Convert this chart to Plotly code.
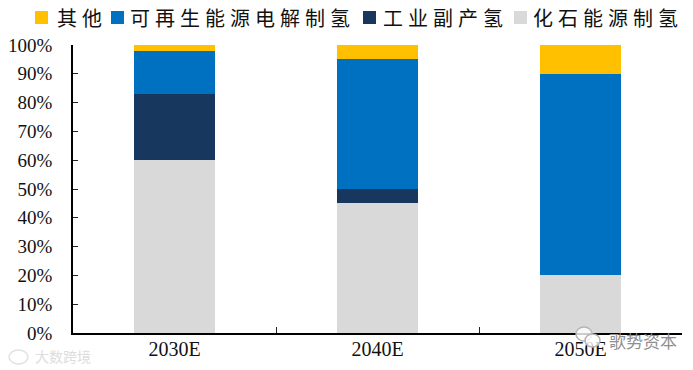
import plotly.graph_objects as go

categories = ["2030E", "2040E", "2050E"]
series_names = ["化石能源制氢", "工业副产氢", "可再生能源电解制氢", "其他"]
fossil = [60, 45, 20]
byproduct = [23, 5, 0]
renewable = [15, 45, 70]
other = [2, 5, 10]
colors = ["#D9D9D9", "#17375E", "#0070C0", "#FFC000"]
tick_vals = [0, 10, 20, 30, 40, 50, 60, 70, 80, 90, 100]
tick_text = [f"{v}%" for v in tick_vals]

W, H = 693, 370
px = lambda x: x / W
py = lambda y: 1 - y / H

fig = go.Figure()
for name, vals, col in zip(series_names, [fossil, byproduct, renewable, other], colors):
    fig.add_trace(go.Bar(x=categories, y=vals, name=name, showlegend=False,
                         marker=dict(color=col, line=dict(width=0)), width=0.4))

fig.update_layout(
    barmode="stack",
    width=W, height=H,
    margin=dict(l=0, r=0, t=0, b=0, autoexpand=False),
    paper_bgcolor="white", plot_bgcolor="white",
    font=dict(family="Liberation Serif", color="#000000"),
    showlegend=False,
    xaxis=dict(type="category", domain=[px(73), px(682)], showgrid=False, ticks="inside", ticklen=6,
               tickwidth=1, tickcolor="#222222", tickson="boundaries", showline=True,
               linecolor="#000000", linewidth=1.5, ticklabelstandoff=-3,
               tickfont=dict(family="Liberation Serif", size=20, color="#111111"), range=[-0.5, 2.5]),
    yaxis=dict(domain=[py(333), py(45)], range=[0, 100], tickvals=tick_vals, ticktext=tick_text,
               showgrid=False, zeroline=False, ticks="inside", ticklen=5, tickwidth=1, tickcolor="#222222",
               showline=True, linecolor="#000000", linewidth=1.5, ticklabelstandoff=15,
               tickfont=dict(family="Liberation Serif", size=19, color="#111111")),
)

# Hand-placed legend row (the reference is wider than a Plotly legend allows)
legend_slots = [(3, 35, 57), (2, 111, 130), (1, 363, 383), (0, 514, 533)]
for idx, sw_x, tx_x in legend_slots:
    fig.add_shape(type="rect", xref="paper", yref="paper", x0=px(sw_x), x1=px(sw_x + 13),
                  y0=py(11), y1=py(24), fillcolor=colors[idx], line=dict(width=0))
    fig.add_annotation(text="\u2005".join(series_names[idx]), xref="paper", yref="paper",
                       x=px(tx_x - 2), y=py(18), xanchor="left", yanchor="middle", showarrow=False,
                       font=dict(family="Noto Sans CJK SC", size=20, color="#111111"))

fig.add_annotation(text="歌势资本", xref="paper", yref="paper", x=px(643), y=py(340), xanchor="center", yanchor="middle",
                   showarrow=False, font=dict(family="Noto Sans CJK SC", size=17, color="#8f8f8f"))
fig.add_annotation(text="大数跨境", xref="paper", yref="paper", x=px(63), y=py(356), xanchor="center", yanchor="middle",
                   showarrow=False, font=dict(family="Noto Sans CJK SC", size=14, color="#dddddd"))
# WeChat-style and badge watermark icons
for x0, y0, x1, y1, lc in [(576, 327, 592, 341, "#b5b5b5"), (585, 334, 600, 347, "#b5b5b5"),
                           (9, 350, 28, 364, "#e2e2e2")]:
    fig.add_shape(type="circle", xref="paper", yref="paper", x0=px(x0), x1=px(x1), y0=py(y0), y1=py(y1),
                  line=dict(color=lc, width=1.5), fillcolor="rgba(255,255,255,0.8)", layer="above")
fig.write_html("out.html", config={"displayModeBar": False},
               post_script="document.body.style.margin='0';document.body.style.overflow='hidden';")
